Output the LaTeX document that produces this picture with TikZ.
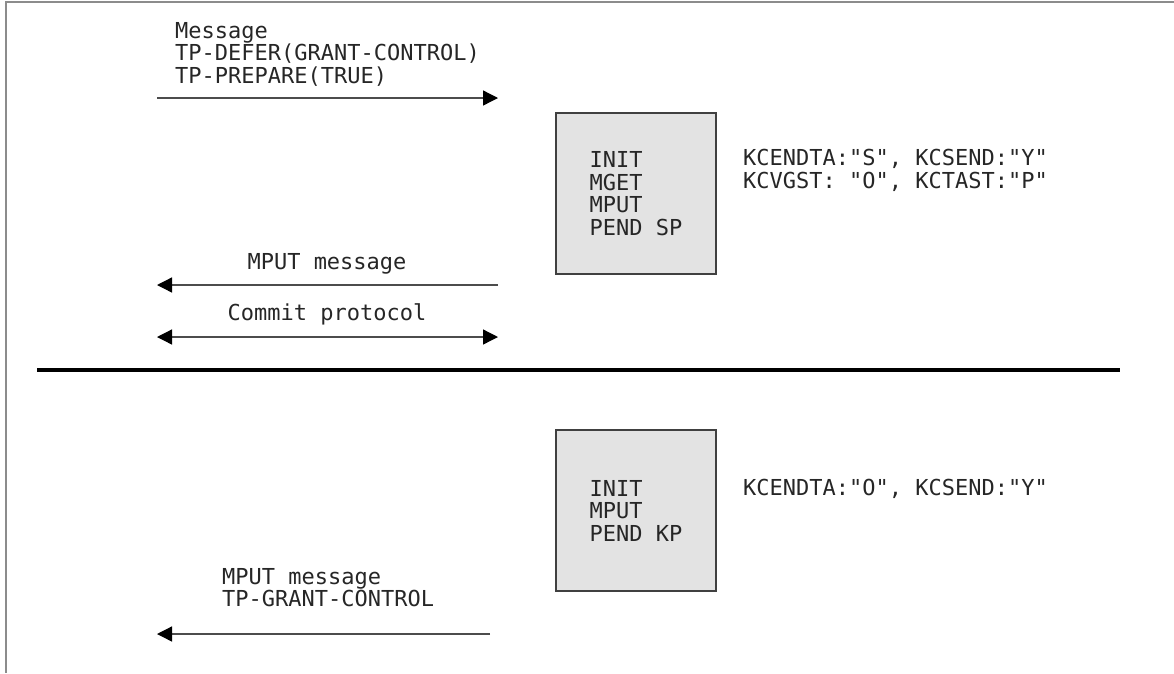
\documentclass[tikz,border=0pt]{standalone}
\usepackage{fontspec}
\setmonofont{DejaVu Sans Mono}
\usetikzlibrary{arrows.meta}
\tikzset{
  lbl/.style={font=\ttfamily\fontsize{22}{22.5}\selectfont, text=black!85, inner sep=0pt, align=left},
  procbox/.style={lbl, draw=black!75, fill=black!11, line width=1.3pt, minimum width=160pt, minimum height=161pt},
  msg/.style={draw=black!70, line width=1.3pt},
  frame/.style={draw=black!45, line width=1.5pt},
}
\begin{document}
\begin{tikzpicture}[x=1pt,y=-1pt,>={Triangle[length=15pt,width=15pt,color=black]}]
  \useasboundingbox (0,0) rectangle (1174,673);
  \draw[frame] (1174,2) -| (6,673);
  % before the separator
  \node[lbl, anchor=north west] (defer) at (175,22) {Message\\TP-DEFER(GRANT-CONTROL)\\TP-PREPARE(TRUE)};
  \coordinate (in1L) at (157,98);
  \coordinate (in1R) at (498,98);
  \draw[msg, ->] (in1L) -- (in1R);
  \node[procbox] (prog1) at (636,193.5) {INIT\\MGET\\MPUT\\PEND SP};
  \node[lbl, anchor=north west] (kc1) at (743,149) {KCENDTA:"S", KCSEND:"Y"\\KCVGST: "O", KCTAST:"P"};
  \node[lbl, anchor=base] (mput1) at (327,269) {MPUT message};
  \coordinate (out1L) at (157,285);
  \coordinate (out1R) at (498,285);
  \draw[msg, ->] (out1R) -- (out1L);
  \node[lbl, anchor=base] (commit) at (327,320) {Commit protocol};
  \coordinate (cpL) at (157,337);
  \coordinate (cpR) at (498,337);
  \draw[msg, <->] (cpL) -- (cpR);
  % separator
  \coordinate (sepL) at (37,370);
  \coordinate (sepR) at (1120,370);
  \draw[line width=4pt] (sepL) -- (sepR);
  % after the separator
  \node[procbox] (prog2) at (636,510.5) {INIT\\MPUT\\PEND KP};
  \node[lbl, anchor=north west] (kc2) at (743,479) {KCENDTA:"O", KCSEND:"Y"};
  \node[lbl, anchor=north west] (grant) at (222,568) {MPUT message\\TP-GRANT-CONTROL};
  \coordinate (out2L) at (157,634);
  \coordinate (out2R) at (490,634);
  \draw[msg, ->] (out2R) -- (out2L);
\end{tikzpicture}
\end{document}
